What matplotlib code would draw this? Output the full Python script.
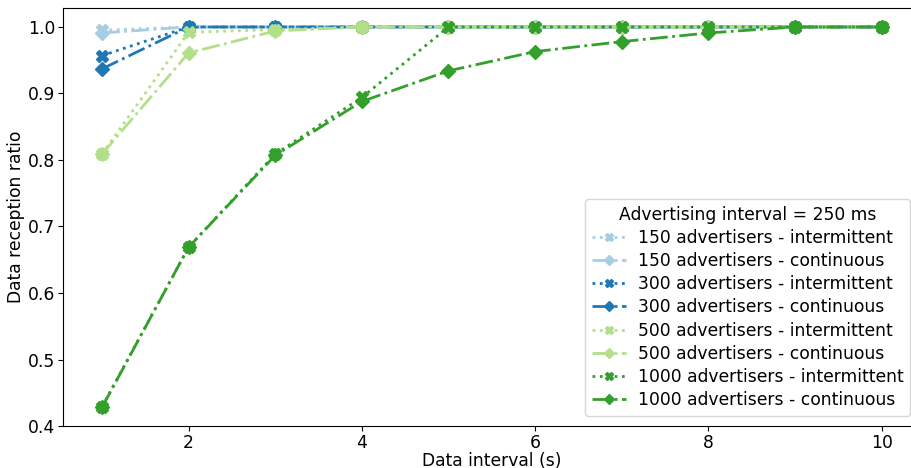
import numpy as np
import matplotlib.pyplot as plt

# Data interval (s)
intervals = [1, 2, 3, 4, 5, 6, 7, 8, 9, 10]

# Data reception ratio per configuration
adv150_intermittent = [0.995, 1.0, 1.0, 1.0, 1.0, 1.0, 1.0, 1.0, 1.0, 1.0]
adv150_continuous = [0.991, 1.0, 1.0, 1.0, 1.0, 1.0, 1.0, 1.0, 1.0, 1.0]
adv300_intermittent = [0.957, 1.0, 1.0, 1.0, 1.0, 1.0, 1.0, 1.0, 1.0, 1.0]
adv300_continuous = [0.937, 1.0, 1.0, 1.0, 1.0, 1.0, 1.0, 1.0, 1.0, 1.0]
adv500_intermittent = [0.809, 0.992, 0.996, 1.0, 1.0, 1.0, 1.0, 1.0, 1.0, 1.0]
adv500_continuous = [0.809, 0.961, 0.994, 1.0, 1.0, 1.0, 1.0, 1.0, 1.0, 1.0]
adv1000_intermittent = [0.429, 0.669, 0.809, 0.894, 1.0, 1.0, 1.0, 1.0, 1.0, 1.0]
adv1000_continuous = [0.428, 0.669, 0.807, 0.888, 0.934, 0.963, 0.978, 0.991, 1.0, 1.0]

plt.rcParams['font.size'] = 12.3

fig = plt.figure(figsize=(9.11, 4.68), dpi=100)
ax = fig.add_axes([0.0692, 0.0897, 0.9413, 0.8933])

colors = {150: '#a6cee3', 300: '#1f78b4', 500: '#b2df8a', 1000: '#33a02c'}
series = [
    (150, adv150_intermittent, adv150_continuous),
    (300, adv300_intermittent, adv300_continuous),
    (500, adv500_intermittent, adv500_continuous),
    (1000, adv1000_intermittent, adv1000_continuous),
]

for n, inter, cont in series:
    ax.plot(intervals, inter, linestyle=':', marker='X', color=colors[n],
            lw=2, ms=8, label=f'{n} advertisers - intermittent')
    ax.plot(intervals, cont, linestyle='-.', marker='D', color=colors[n],
            lw=2, ms=7, label=f'{n} advertisers - continuous')

ax.set_xlim(0.55, 10.45)
ax.set_ylim(0.4, 1.0286)
ax.set_xticks([2, 4, 6, 8, 10])
ax.set_yticks(np.arange(0.4, 1.01, 0.1))
ax.tick_params(axis='x', pad=2)
ax.tick_params(axis='y', pad=2)
ax.set_xlabel('Data interval (s)', labelpad=0)
ax.set_ylabel('Data reception ratio', labelpad=2)
ax.legend(title='Advertising interval = 250 ms', loc='lower right',
          title_fontsize=12.3, fontsize=12.3, labelspacing=0.3,
          markerscale=0.7, borderaxespad=0.6, handletextpad=0.7)

fig.savefig('out.png', dpi=100)
